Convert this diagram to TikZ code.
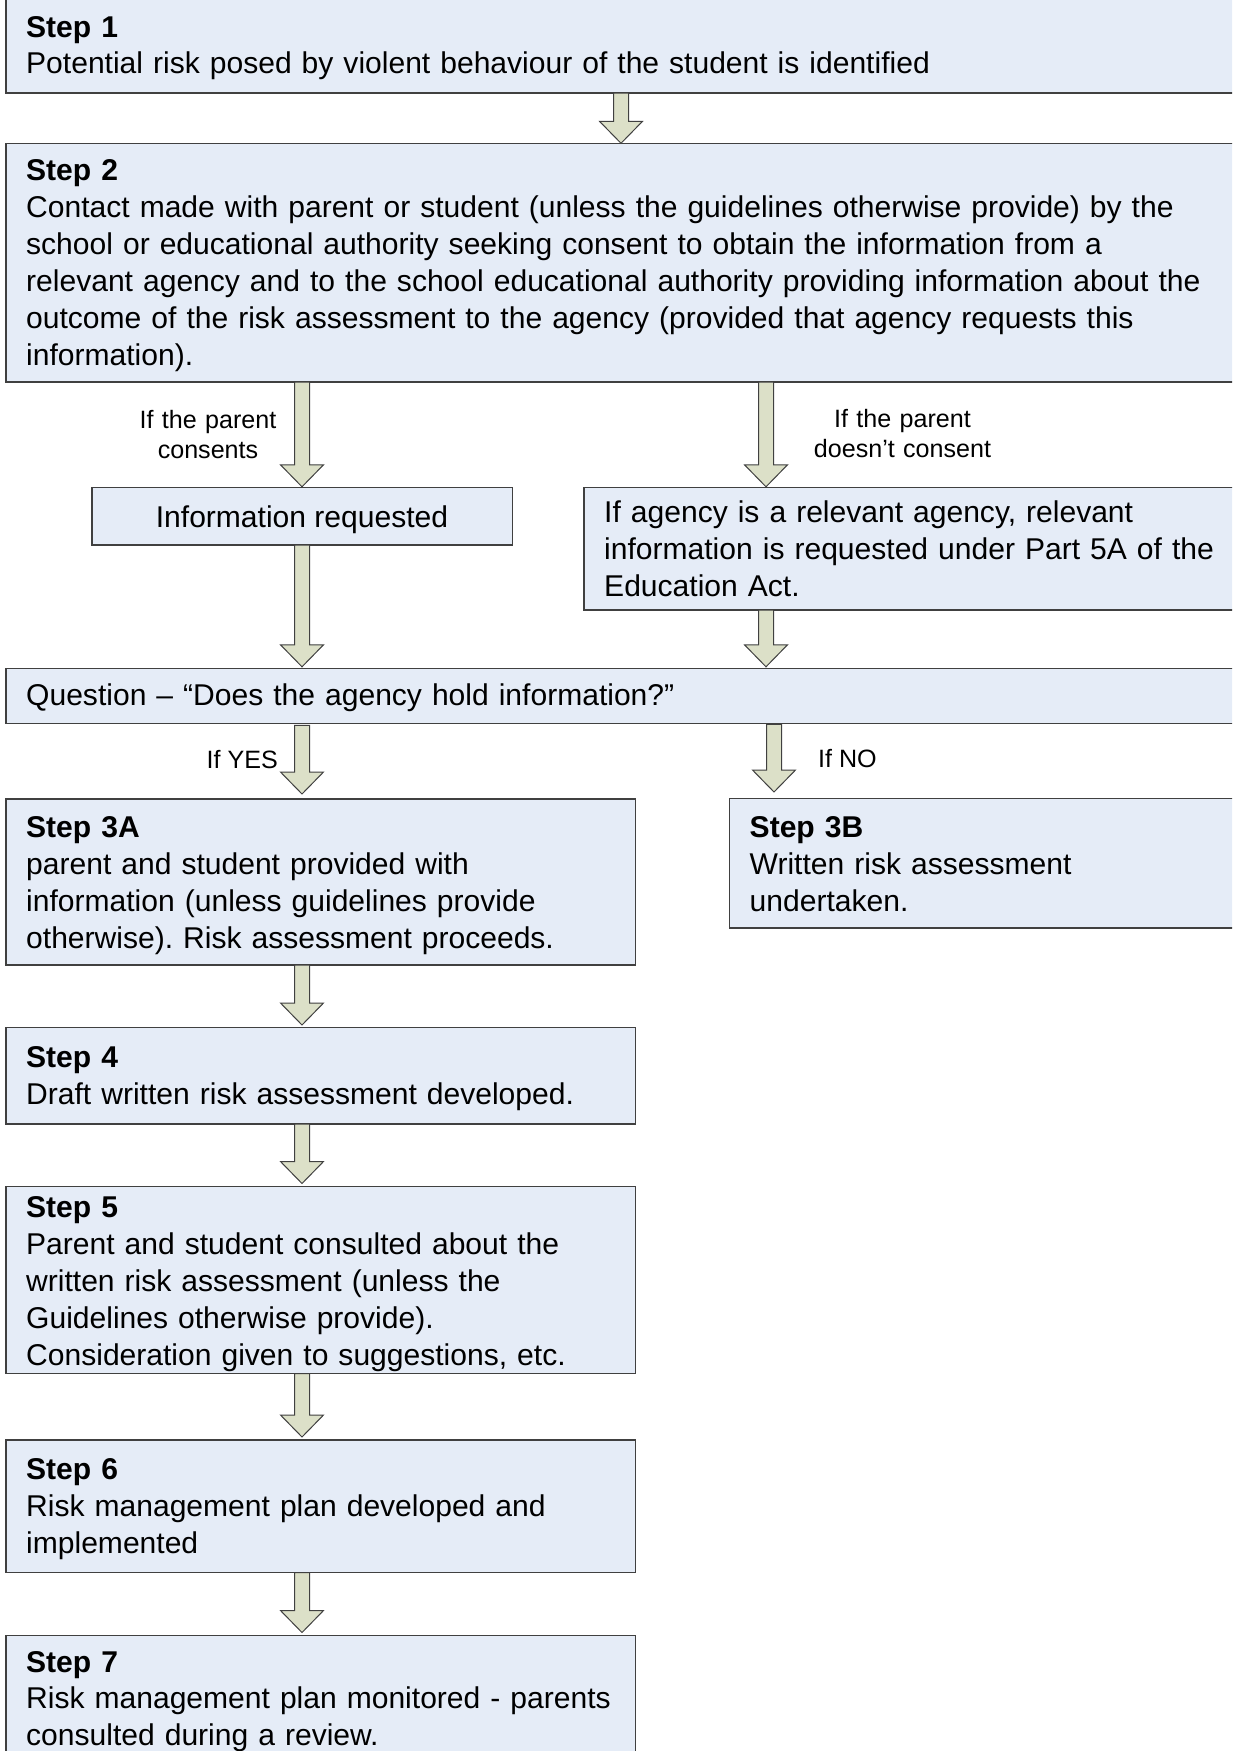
\documentclass[tikz,border=0pt]{standalone}
\usepackage{fontspec}
\setmainfont{Liberation Sans}
\usetikzlibrary{calc}
\definecolor{boxfill}{RGB}{229,236,247}
\definecolor{arrowfill}{RGB}{220,224,200}
\definecolor{edgecol}{RGB}{64,64,64}
\frenchspacing
\tikzset{
  stepbox/.style={draw=edgecol, line width=1.2pt, fill=boxfill, rectangle, inner sep=0pt, outer sep=0pt, anchor=north west},
  bodytext/.style={font=\fontsize{30.05}{36.9}\selectfont\frenchspacing, text width=1205pt, align=left, inner sep=0pt, anchor=base west},
  centertext/.style={font=\fontsize{30.05}{36.9}\selectfont, inner sep=0pt, anchor=base},
  labeltext/.style={font=\fontsize{25.1}{30.2}\selectfont, inner sep=0pt},
  barrow/.style={draw=edgecol, line width=1pt, fill=arrowfill, line join=miter},
}
\newcommand\flowarrow[5]{%
  \path[barrow] let \p1=(#2.south), \p2=(#3.north) in
    (#1pt-7.5pt,\y1-#4pt) -- (#1pt+7.5pt,\y1-#4pt) -- (#1pt+7.5pt,\y2+#5pt+22pt)
    -- (#1pt+21.5pt,\y2+#5pt+22pt) -- (#1pt,\y2+#5pt) -- (#1pt-21.5pt,\y2+#5pt+22pt)
    -- (#1pt-7.5pt,\y2+#5pt+22pt) -- cycle;}
\begin{document}
\begin{tikzpicture}[x=1pt,y=-1pt]
\useasboundingbox (0,0) rectangle (1232,1751);
\clip (0,0) rectangle (1232,1751);
\fill[white] (0,0) rectangle (1232,1751);

% boxes
\node[stepbox, minimum width=1240pt, minimum height=103pt] (s1) at (6,-10) {};
\node[stepbox, minimum width=1240pt, minimum height=238.7pt] (s2) at (6,143.3) {};
\node[stepbox, minimum width=420.5pt, minimum height=57.7pt] (info) at (92,487.3) {};
\node[stepbox, minimum width=660pt, minimum height=122.7pt] (agency) at (584,487.3) {};
\node[stepbox, minimum width=1240pt, minimum height=55pt] (q) at (6,668.3) {};
\node[stepbox, minimum width=629.5pt, minimum height=166pt] (s3a) at (6,799) {};
\node[stepbox, minimum width=510pt, minimum height=129.5pt] (s3b) at (729.3,798.5) {};
\node[stepbox, minimum width=629.5pt, minimum height=96.5pt] (s4) at (6,1027.5) {};
\node[stepbox, minimum width=629.5pt, minimum height=187pt] (s5) at (6,1186.5) {};
\node[stepbox, minimum width=629.5pt, minimum height=132.7pt] (s6) at (6,1440) {};
\node[stepbox, minimum width=629.5pt, minimum height=130pt] (s7) at (6,1635.5) {};

% arrows
\flowarrow{621}{s1}{s2}{0}{0}
\flowarrow{302}{s2}{info}{0}{0.5}
\flowarrow{766}{s2}{agency}{0}{0.5}
\flowarrow{302}{info}{q}{0}{1.5}
\flowarrow{766}{agency}{q}{0}{1.5}
\flowarrow{302}{q}{s3a}{2}{5}
\flowarrow{774}{q}{s3b}{1}{6.5}
\flowarrow{302}{s3a}{s4}{0}{2.5}
\flowarrow{302}{s4}{s5}{0}{3}
\flowarrow{302}{s5}{s6}{0}{3}
\flowarrow{302}{s6}{s7}{0}{3}

% texts
\node[bodytext] (t1) at (26,37) {\textbf{Step 1}\\Potential risk posed by violent behaviour of the student is identified};
\node[bodytext] (t2) at (26,180.8) {\textbf{Step 2}\\Contact made with parent or student (unless the guidelines otherwise provide) by the\\school or educational authority seeking consent to obtain the information from a\\relevant agency and to the school educational authority providing information about the\\outcome of the risk assessment to the agency (provided that agency requests this\\information).};
\node[centertext] (tinfo) at (302,527) {Information requested};
\node[bodytext, text width=620pt] (tag) at (604,522.5) {If agency is a relevant agency, relevant\\information is requested under Part 5A of the\\Education Act.};
\node[bodytext] (tq) at (26,705.8) {Question – “Does the agency hold information?”};
\node[bodytext, text width=600pt] (t3a) at (26,837.6) {\textbf{Step 3A}\\parent and student provided with\\information (unless guidelines provide\\otherwise). Risk assessment proceeds.};
\node[bodytext, text width=480pt] (t3b) at (749.5,837.6) {\textbf{Step 3B}\\Written risk assessment\\undertaken.};
\node[bodytext, text width=600pt] (t4) at (26,1067.7) {\textbf{Step 4}\\Draft written risk assessment developed.};
\node[bodytext, text width=600pt] (t5) at (26,1217.4) {\textbf{Step 5}\\Parent and student consulted about the\\written risk assessment (unless the\\Guidelines otherwise provide).\\Consideration given to suggestions, etc.};
\node[bodytext, text width=600pt] (t6) at (26,1479.9) {\textbf{Step 6}\\Risk management plan developed and\\implemented};
\node[bodytext, text width=600pt] (t7) at (26,1672) {\textbf{Step 7}\\Risk management plan monitored - parents\\consulted during a review.};

% labels
\node[labeltext, text width=220pt, align=center, anchor=base] (l1) at (208,428) {If the parent\\consents};
\node[labeltext, text width=220pt, align=center, anchor=base] (l2) at (902.5,427) {If the parent\\doesn’t consent};
\node[labeltext, anchor=base east] (l3) at (278,768) {If YES};
\node[labeltext, anchor=base west] (l4) at (818,767) {If NO};
\end{tikzpicture}
\end{document}
